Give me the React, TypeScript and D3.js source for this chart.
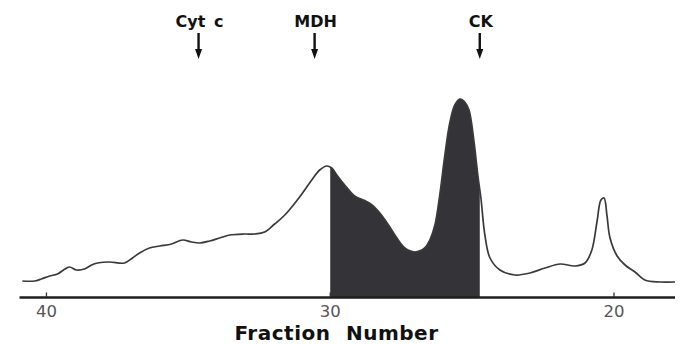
import React from "react";
import * as d3 from "d3";

// Elution profile: fraction number vs relative absorbance
const fractions = [
  40.85, 40.42, 40.18, 39.89, 39.61, 39.4, 39.19, 38.94, 38.66, 38.41, 38.2, 37.78, 37.25, 36.97,
  36.72, 36.37, 36.01, 35.59, 35.2, 34.89, 34.6, 34.25, 33.9, 33.54, 33.02, 32.66, 32.31, 31.96,
  31.6, 31.08, 30.65, 30.37, 30.12, 29.95, 29.74, 29.49, 29.14, 28.78, 28.54, 28.25, 27.97, 27.72,
  27.37, 27.02, 26.67, 26.49, 26.31, 26.14, 25.96, 25.78, 25.61, 25.43, 25.26, 25.11, 24.94, 24.8,
  24.69, 24.55, 24.37, 24.02, 23.49, 22.96, 22.43, 21.9, 21.38, 21.02, 20.78, 20.6, 20.46, 20.35,
  20.25, 20.14, 19.89, 19.61, 19.26, 18.91, 18.38, 17.85,
];
const absorbance = [
  0.08, 0.08, 0.09, 0.105, 0.115, 0.135, 0.15, 0.135, 0.14, 0.16, 0.17, 0.175, 0.17, 0.195,
  0.22, 0.245, 0.255, 0.265, 0.285, 0.275, 0.27, 0.28, 0.295, 0.31, 0.315, 0.315, 0.325, 0.365,
  0.41, 0.5, 0.585, 0.635, 0.655, 0.645, 0.605, 0.56, 0.505, 0.482, 0.462, 0.42, 0.365, 0.31,
  0.245, 0.225, 0.245, 0.285, 0.36, 0.51, 0.71, 0.875, 0.96, 0.99, 0.975, 0.935, 0.785, 0.61,
  0.495, 0.31, 0.195, 0.135, 0.11, 0.12, 0.145, 0.165, 0.155, 0.17, 0.235, 0.375, 0.485, 0.495,
  0.41, 0.295, 0.205, 0.16, 0.125, 0.085, 0.075, 0.075,
];

const markerLabels = ["Cyt c", "MDH", "CK"];
const markerFractions = [34.64, 30.55, 24.73];

const tickValues = [40, 30, 20];
const shadedRange = [30, 24.73];
const xDomain = [40.95, 17.85];
const xLabel = "Fraction Number";

export default function App() {
  const W = 684;
  const H = 344;
  const x = d3.scaleLinear().domain(xDomain).range([19.5, 675]);
  const y = d3.scaleLinear().domain([0, 1]).range([297, 97]);

  const pts = fractions.map((f, i) => [f, absorbance[i]] as [number, number]);

  const line = d3
    .line<[number, number]>()
    .x((d) => x(d[0]))
    .y((d) => y(d[1]))
    .curve(d3.curveCatmullRom.alpha(0.5));

  const area = d3
    .area<[number, number]>()
    .x((d) => x(d[0]))
    .y0(y(0))
    .y1((d) => y(d[1]))
    .curve(d3.curveCatmullRom.alpha(0.5));

  const sx0 = x(shadedRange[0]);
  const sx1 = x(shadedRange[1]);

  return (
    <svg
      width={W}
      height={H}
      style={{ position: "absolute", left: 0, top: 0, background: "#fff" }}
      fontFamily="'DejaVu Sans', sans-serif"
    >
      <defs>
        <clipPath id="shade">
          <rect x={sx0} y={0} width={sx1 - sx0} height={y(0)} />
        </clipPath>
      </defs>
      <path d={area(pts) || ""} fill="#343438" clipPath="url(#shade)" />
      <path d={line(pts) || ""} fill="none" stroke="#3a3a3a" strokeWidth={1.7} />

      {/* axis */}
      <line x1={x.range()[0]} x2={x.range()[1]} y1={297.5} y2={297.5} stroke="#1e1e1e" strokeWidth={2.6} />
      {tickValues.map((t) => (
        <g key={t}>
          <line x1={x(t)} x2={x(t)} y1={297} y2={292.5} stroke="#333" strokeWidth={1.3} />
          <text x={x(t)} y={317} textAnchor="middle" fontSize={16.5} fill="#555">
            {t}
          </text>
        </g>
      ))}
      <text
        x={336.5}
        y={340}
        textAnchor="middle"
        fontSize={20}
        fontWeight="bold"
        letterSpacing={0.5}
        wordSpacing={8}
        fill="#111"
      >
        {xLabel}
      </text>

      {/* markers */}
      {markerLabels.map((lab, i) => {
        const mx = x(markerFractions[i]);
        return (
          <g key={lab}>
            <text
              x={mx + 1}
              y={27}
              textAnchor="middle"
              fontSize={16}
              fontWeight="bold"
              wordSpacing={3}
              fill="#111"
            >
              {lab}
            </text>
            <line x1={mx} x2={mx} y1={33} y2={51} stroke="#111" strokeWidth={2.4} />
            <path d={`M${mx - 3.5},49 L${mx + 3.5},49 L${mx},59 Z`} fill="#111" />
          </g>
        );
      })}
    </svg>
  );
}
